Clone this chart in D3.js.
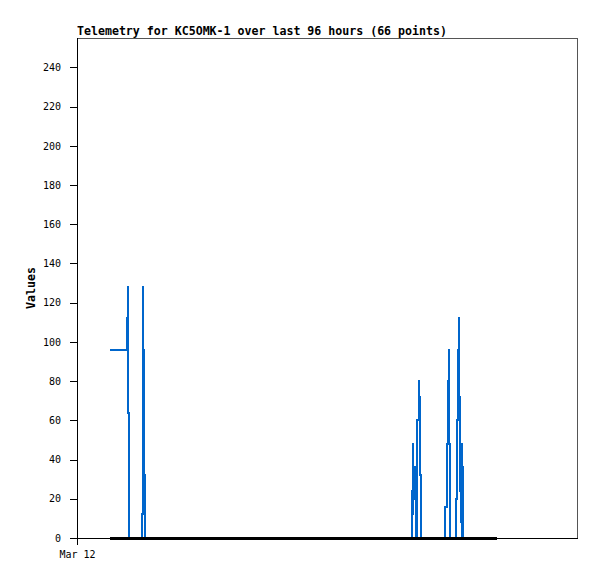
<!DOCTYPE html>
<html><head><meta charset="utf-8">
<script src="https://cdn.jsdelivr.net/npm/d3@7"></script>
<style>body{margin:0;background:#fff} svg{display:block}</style>
</head><body>
<script>
const title = "Telemetry for KC5OMK-1 over last 96 hours (66 points)";
const yLabel = "Values";
const yTicks = [0,20,40,60,80,100,120,140,160,180,200,220,240];
const xTickHours = [0];
const xTickLabels = ["Mar 12"];
// hours since Mar 12 00:00
const hours = [8.18,12.33,12.55,12.57,12.82,
  16.05,16.20,16.42,16.44,16.69,16.94,
  19,22,27,32,35,38,43,48,51,54,59,64,67,70,75,78,80,
  83.16,83.38,83.41,83.43,83.76,84.08,84.40,84.72,84.75,85.02,85.32,
  87.5,89.5,
  91.34,91.69,91.94,92.21,92.24,92.51,93.2,
  94.00,94.25,94.44,94.67,94.69,94.92,95.16,95.44,95.46,95.78,95.81,
  96.9,98,100,102,104.17];
const values = [96,112,128,64,0,
  4,12,128,96,32,0,
  0,0,0,0,0,0,0,0,0,0,0,0,0,0,0,0,0,
  24,12,48,36,20,0,60,80,72,32,0,
  0,0,
  16,48,80,96,48,0,0,
  20,60,96,112,72,24,8,48,0,36,0,
  0,0,0,0,0];

const W = 597, H = 579;
const M = {left:77, top:38, right:20, bottom:41};
const svg = d3.select("body").append("svg").attr("width",W).attr("height",H);
const x = d3.scaleLinear().domain([0,124]).range([M.left, W-M.right]);
const y = d3.scaleLinear().domain([0,255]).range([H-M.bottom, M.top]);
const mono = "'DejaVu Sans Mono', monospace";

// frame
svg.append("rect").attr("x",M.left+0.5).attr("y",M.top+0.5)
  .attr("width",W-M.left-M.right).attr("height",H-M.top-M.bottom)
  .attr("fill","none").attr("stroke","#555");

const data = hours.map((h,i)=>({h, v: values[i]}));
const line = d3.line().x(d=>x(d.h)).y(d=>y(d.v)).curve(d3.curveStepAfter);
svg.append("path").datum(data).attr("d",line)
  .attr("fill","none").attr("stroke","#0066cc").attr("stroke-width",2)
  .attr("shape-rendering","crispEdges");
// baseline (zero) series in black
svg.append("path").datum([{h:hours[0],v:0},{h:hours[hours.length-1],v:0}]).attr("d",d3.line().x(d=>x(d.h)).y(d=>y(d.v)))
  .attr("fill","none").attr("stroke","#000").attr("stroke-width",3)
  .attr("shape-rendering","crispEdges");

const yAxis = svg.append("g").attr("transform",`translate(${M.left},0)`)
  .call(d3.axisLeft(y).tickValues(yTicks).tickSize(7).tickPadding(9).tickSizeOuter(0));
yAxis.selectAll("text").attr("font-family",mono).attr("font-size","10px").attr("fill","#000");
yAxis.selectAll("line,path").attr("stroke","#000").attr("shape-rendering","crispEdges");
yAxis.select(".domain").attr("d",`M0,${M.top}V${H-M.bottom+7}`);

const xAxis = svg.append("g").attr("transform",`translate(0,${H-M.bottom})`)
  .call(d3.axisBottom(x).tickValues(xTickHours).tickFormat((d,i)=>xTickLabels[i]).tickSize(7).tickPadding(6).tickSizeOuter(0));
xAxis.selectAll("text").attr("font-family",mono).attr("font-size","10px").attr("fill","#000");
xAxis.selectAll("line,path").attr("stroke","#000").attr("shape-rendering","crispEdges");

svg.append("text").attr("x",M.left).attr("y",35).text(title)
  .attr("font-family",mono).attr("font-size","11.6px").attr("font-weight","bold");
svg.append("text").attr("transform",`translate(35,${(M.top+H-M.bottom)/2}) rotate(-90)`)
  .attr("text-anchor","middle").text(yLabel)
  .attr("font-family",mono).attr("font-size","11.6px").attr("font-weight","bold");
</script>
</body></html>
